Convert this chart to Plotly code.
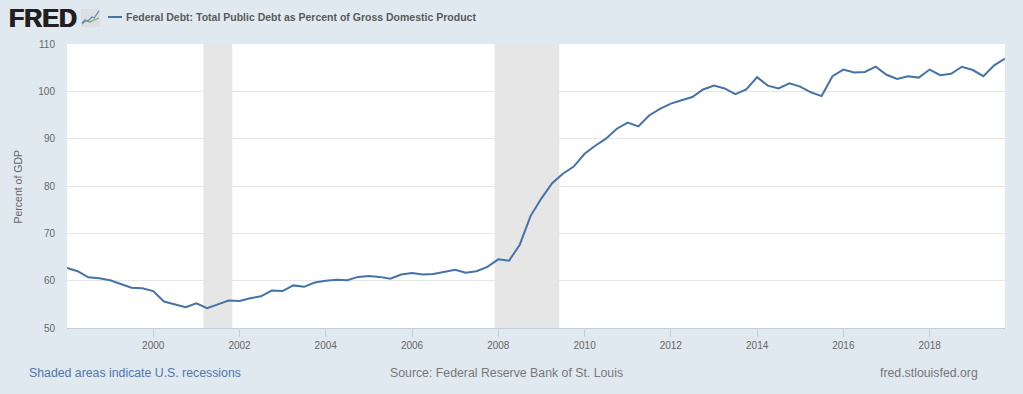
import plotly.graph_objects as go

SERIES_NAME = "Federal Debt: Total Public Debt as Percent of Gross Domestic Product"
Y_TITLE = "Percent of GDP"
years = list(range(1998, 2020))
quarter_months = ["01", "04", "07", "10"]
dates = [f"{y}-{m}-01" for y in years for m in quarter_months]
debt_pct_gdp = [
    62.7, 62.0, 60.7, 60.5,
    60.1, 59.3, 58.5, 58.4,
    57.8, 55.6, 55.0, 54.4,
    55.2, 54.2, 55.0, 55.8,
    55.7, 56.3, 56.7, 57.9,
    57.8, 59.0, 58.7, 59.6,
    60.0, 60.2, 60.1, 60.8,
    61.0, 60.8, 60.4, 61.3,
    61.6, 61.3, 61.4, 61.9,
    62.3, 61.7, 62.0, 62.9,
    64.5, 64.2, 67.6, 73.7,
    77.4, 80.6, 82.6, 84.1,
    86.8, 88.5, 90.0, 92.1,
    93.4, 92.6, 94.9, 96.3,
    97.4, 98.1, 98.8, 100.4,
    101.2, 100.6, 99.4, 100.4,
    103.0, 101.2, 100.6, 101.7,
    101.0, 99.8, 99.0, 103.2,
    104.6, 104.0, 104.1, 105.2,
    103.5, 102.6, 103.2, 102.9,
    104.6, 103.4, 103.7, 105.2,
    104.5, 103.2, 105.5, 106.9,
]
recessions = [("2001-03-01", "2001-11-01"), ("2007-12-01", "2009-06-01")]
x_ticks = [f"{y}-01-01" for y in range(2000, 2020, 2)]
x_tick_labels = [str(y) for y in range(2000, 2020, 2)]
y_ticks = [50, 60, 70, 80, 90, 100, 110]

W, H = 1023, 394
BG = "#e1e9f0"
FONT = "Liberation Sans, Arial, sans-serif"
L, R, T, B = 67, 1005, 44, 328

def px(v):
    return (v - L) / (R - L)
def py(v):
    return (B - v) / (B - T)
def poly(points):
    return "M " + " L ".join(f"{px(a)} {py(b)}" for a, b in points)

fig = go.Figure()
fig.add_trace(go.Scatter(x=dates, y=debt_pct_gdp, mode="lines", name=SERIES_NAME,
                         line=dict(color="#4572a7", width=2)))

shapes = []
for a, b in recessions:
    shapes.append(dict(type="rect", xref="x", yref="paper", x0=a, x1=b, y0=0, y1=1,
                       fillcolor="#e6e6e6", line_width=0, layer="below"))

# logo icon
shapes.append(dict(type="rect", xref="paper", yref="paper", x0=px(81), x1=px(100), y0=py(27), y1=py(9),
                   fillcolor="#d9dfe2", line_width=0))
shapes.append(dict(type="path", xref="paper", yref="paper",
                   path=poly([(82, 24), (86, 21), (90, 22), (94, 20), (99, 18)]),
                   line=dict(color="#7fa85c", width=1.2)))
shapes.append(dict(type="path", xref="paper", yref="paper",
                   path=poly([(82, 23), (85, 20), (88, 21), (92, 17), (94, 18), (99, 11)]),
                   line=dict(color="#5f86b5", width=1.2)))
# legend sample line
shapes.append(dict(type="line", xref="paper", yref="paper", x0=px(108), x1=px(122), y0=py(17), y1=py(17),
                   line=dict(color="#4572a7", width=2)))

def note(text, x, y, size, color, anchor="left", bold=False, angle=0, shadow=None):
    f = dict(family=FONT, size=size, color=color)
    if shadow:
        f["shadow"] = shadow
    return dict(text=f"<b>{text}</b>" if bold else text, x=px(x), y=py(y), xref="paper", yref="paper",
                showarrow=False, xanchor=anchor, yanchor="middle", textangle=angle, font=f)

annotations = [
    note("FRED", 7, 18, 25, "#231f20", bold=True,
         shadow="0.6px 0 0 #231f20, -0.6px 0 0 #231f20"),
    note(SERIES_NAME, 124, 17, 10.5, "#595959", bold=True),
    note("Shaded areas indicate U.S. recessions", 27, 373, 12.3, "#4f77aa"),
    note("Source: Federal Reserve Bank of St. Louis", 506.5, 373, 12.3, "#777777", anchor="center"),
    note("fred.stlouisfed.org", 980, 373, 12.3, "#777777", anchor="right"),
    note(Y_TITLE, 17, 186.5, 10.5, "#666666", anchor="center", angle=-90),
]

fig.update_layout(
    width=W, height=H, autosize=False,
    paper_bgcolor=BG, plot_bgcolor="#ffffff",
    margin=dict(l=L, r=W - R, t=T, b=H - B),
    showlegend=False, shapes=shapes, annotations=annotations,
    font=dict(family=FONT, size=10, color="#666666"),
    xaxis=dict(type="date", range=["1998-01-01", "2019-10-01"], tickvals=x_ticks, ticktext=x_tick_labels,
               showgrid=False, ticks="outside", ticklen=8, tickcolor="#c0d0e0", tickwidth=1,
               showline=True, linecolor="#c0d0e0", linewidth=1, zeroline=False,
               tickfont=dict(family=FONT, size=10, color="#666666")),
    yaxis=dict(range=[50, 110], tickvals=y_ticks, showgrid=True, gridcolor="#e6e6e6", gridwidth=1,
               zeroline=False, ticks="", ticklen=0, showline=False, ticklabelstandoff=11,
               tickfont=dict(family=FONT, size=10, color="#666666")),
)
fig.write_html("out.html", config=dict(displayModeBar=False),
               post_script="document.body.style.margin='0';")
